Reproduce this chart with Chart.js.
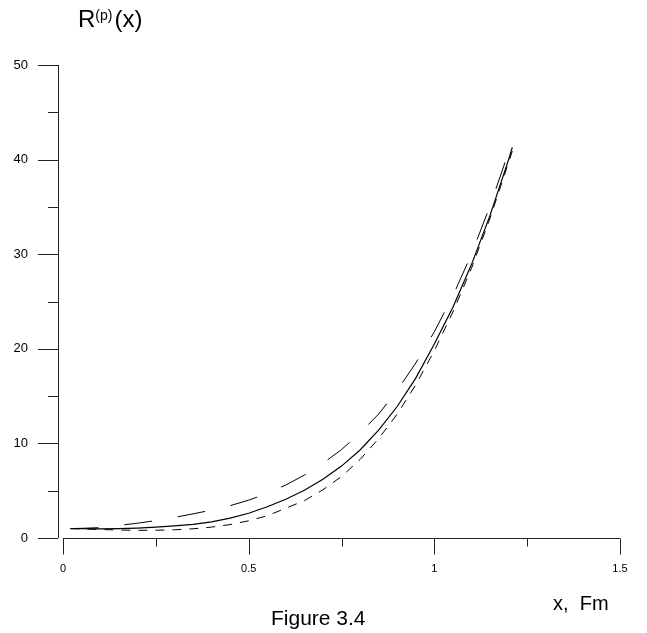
<!DOCTYPE html>
<html>
<head>
<meta charset="utf-8">
<script src="https://cdn.jsdelivr.net/npm/chart.js@4/dist/chart.umd.min.js"></script>
<style>
  html, body { margin: 0; padding: 0; background: #fff; }
  #wrap { width: 647px; height: 633px; position: relative; }
</style>
</head>
<body>
<div id="wrap"><canvas id="fig34" width="647" height="633"></canvas></div>
<script>
// x values, Fm
var xs = [0.02, 0.05, 0.10, 0.15, 0.20, 0.25, 0.30, 0.35, 0.40, 0.45, 0.50, 0.55, 0.60,
          0.65, 0.70, 0.75, 0.80, 0.85, 0.90, 0.95, 1.00, 1.05, 1.10, 1.15, 1.20, 1.21];

// solid curve
var solid = [1.00, 0.99, 0.97, 0.99, 1.05, 1.15, 1.28, 1.45, 1.70, 2.10, 2.62, 3.30, 4.10,
             5.05, 6.20, 7.60, 9.30, 11.40, 13.90, 16.90, 20.50, 24.40, 28.90, 34.10, 40.00, 41.30];

// long dashes
var longDash = [1.00, 1.02, 1.10, 1.33, 1.56, 1.84, 2.18, 2.55, 2.95, 3.42, 4.00, 4.72, 5.60,
                6.65, 7.90, 9.35, 11.10, 13.10, 15.60, 18.50, 21.80, 25.60, 30.00, 35.10, 40.80, 42.00];

// short dashes
var shortDash = [1.00, 0.96, 0.90, 0.85, 0.81, 0.82, 0.87, 0.97, 1.15, 1.42, 1.82, 2.35, 3.15,
                 3.95, 5.10, 6.50, 8.30, 10.50, 13.10, 16.20, 19.80, 23.90, 28.50, 33.80, 39.70, 40.90];

var xMajor = [0, 0.5, 1, 1.5];
var xMinor = [0.25, 0.75, 1.25];
var yMajor = [0, 10, 20, 30, 40, 50];
var yMinor = [5, 15, 25, 35, 45];

function pts(ys) {
  return xs.map(function (x, i) { return { x: x, y: ys[i] }; });
}

// axes + extra labels drawn by hand, like the old plotting package did
var axesPlugin = {
  id: 'axesPlugin',
  afterDraw: function (chart) {
    var ctx = chart.ctx;
    var sx = chart.scales.x, sy = chart.scales.y;
    var y0 = sy.getPixelForValue(0);
    var x0 = sx.getPixelForValue(0);
    var ax = x0 - 5;
    ctx.save();
    ctx.strokeStyle = '#222';
    ctx.lineWidth = 1;
    ctx.beginPath();
    // y axis
    ctx.moveTo(ax + 0.5, sy.getPixelForValue(50));
    ctx.lineTo(ax + 0.5, y0);
    yMajor.forEach(function (v) {
      var p = Math.round(sy.getPixelForValue(v)) + 0.5;
      ctx.moveTo(ax - 20, p); ctx.lineTo(ax, p);
    });
    yMinor.forEach(function (v) {
      var p = Math.round(sy.getPixelForValue(v)) + 0.5;
      ctx.moveTo(ax - 10, p); ctx.lineTo(ax, p);
    });
    // x axis
    var yb = Math.round(y0) + 0.5;
    ctx.moveTo(x0, yb);
    ctx.lineTo(sx.getPixelForValue(1.5), yb);
    xMajor.forEach(function (v) {
      var p = Math.round(sx.getPixelForValue(v)) + 0.5;
      ctx.moveTo(p, yb); ctx.lineTo(p, yb + 16);
    });
    xMinor.forEach(function (v) {
      var p = Math.round(sx.getPixelForValue(v)) + 0.5;
      ctx.moveTo(p, yb); ctx.lineTo(p, yb + 8);
    });
    ctx.stroke();

    ctx.fillStyle = '#000';
    ctx.textBaseline = 'alphabetic';
    ctx.textAlign = 'left';
    // R^(p)(x)
    ctx.font = '24px "Liberation Sans", Arial, sans-serif';
    ctx.fillText('R', 78, 27);
    var w = ctx.measureText('R').width;
    ctx.font = '14px "Liberation Sans", Arial, sans-serif';
    ctx.fillText('(p)', 78 + w, 20);
    var w2 = ctx.measureText('(p)').width;
    ctx.font = '24px "Liberation Sans", Arial, sans-serif';
    ctx.fillText('(x)', 78 + w + w2 + 2, 27);
    // axis name and caption
    ctx.font = '20px "Liberation Sans", Arial, sans-serif';
    ctx.fillText('x,  Fm', 553, 610);
    ctx.font = '21px "Liberation Sans", Arial, sans-serif';
    ctx.fillText('Figure 3.4', 271, 625);
    ctx.restore();
  }
};

new Chart(document.getElementById('fig34').getContext('2d'), {
  type: 'line',
  data: {
    datasets: [
      { label: 'solid', data: pts(solid), borderColor: '#000', borderWidth: 1.2, pointRadius: 0, fill: false },
      { label: 'long', data: pts(longDash), borderColor: '#000', borderWidth: 1, borderDash: [28, 26], pointRadius: 0, fill: false },
      { label: 'short', data: pts(shortDash), borderColor: '#000', borderWidth: 1, borderDash: [9, 8], pointRadius: 0, fill: false }
    ]
  },
  options: {
    responsive: false,
    animation: false,
    layout: { padding: { top: 65, right: 27, left: 0, bottom: 0 } },
    plugins: { legend: { display: false }, tooltip: { enabled: false } },
    scales: {
      x: {
        type: 'linear', min: 0, max: 1.5,
        grid: { display: false, drawTicks: false },
        border: { display: false },
        ticks: { stepSize: 0.5, padding: 24, color: '#000', maxRotation: 0,
                 callback: function (v) { return String(v); },
                 font: { family: '"Liberation Sans", Arial, sans-serif', size: 11 } },
        afterFit: function (s) { s.height = 95; s.paddingRight = 0; s.paddingLeft = 0; }
      },
      y: {
        type: 'linear', min: 0, max: 50,
        grid: { display: false, drawTicks: false },
        border: { display: false },
        ticks: { stepSize: 10, padding: 35, color: '#000',
                 font: { family: '"Liberation Sans", Arial, sans-serif', size: 13 } },
        afterFit: function (s) { s.width = 63; s.paddingTop = 0; s.paddingBottom = 0; }
      }
    }
  },
  plugins: [axesPlugin]
});
</script>
</body>
</html>
